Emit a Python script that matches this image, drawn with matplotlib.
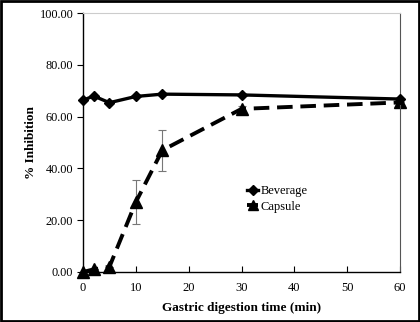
import matplotlib
matplotlib.use("Agg")
import matplotlib.pyplot as plt
from matplotlib.patches import Rectangle

plt.rcParams['font.family'] = ['Liberation Serif', 'DejaVu Serif']

# data
time_min = [0, 2, 5, 10, 15, 30, 60]
beverage = [66.3, 68.0, 65.4, 67.8, 68.7, 68.4, 66.8]
capsule = [0.0, 1.0, 2.0, 27.0, 47.0, 63.0, 65.5]
capsule_err = [0.0, 0.0, 0.0, 8.5, 8.0, 1.0, 0.0]
yticks = [0, 20, 40, 60, 80, 100]
xticks = [0, 10, 20, 30, 40, 50, 60]

fig = plt.figure(figsize=(4.2, 3.22), dpi=100)
ax = fig.add_axes([0.1976, 0.1553, 0.755, 0.804])

ax.errorbar(time_min, capsule, yerr=capsule_err, fmt="none", ecolor="#777777",
            elinewidth=0.8, capsize=3, capthick=0.8, zorder=1)
ax.plot(time_min, beverage, "k-", marker="D", markersize=5, linewidth=2.4,
        label="Beverage", zorder=3)
ax.plot(time_min, capsule, "k--", marker="^", markersize=8, linewidth=2.8,
        dashes=(4, 2), label="Capsule", zorder=2)

ax.set_xlim(0, 60)
ax.set_ylim(0, 100)
ax.set_xticks(xticks)
ax.set_yticks(yticks)
ax.set_yticklabels(["%.2f" % v for v in yticks])
ax.tick_params(axis="x", direction="in", length=4, labelsize=9, pad=7)
ax.tick_params(axis="y", direction="out", length=4, labelsize=8.8, pad=3)
ax.spines["top"].set_color("#cccccc")
ax.spines["right"].set_color("#555555")
for s in ["left", "bottom"]:
    ax.spines[s].set_linewidth(1.0)
for ln in ax.lines:
    ln.set_clip_on(False)

ax.set_xlabel("Gastric digestion time (min)", fontsize=9.5, fontweight="bold", labelpad=6)
ax.set_ylabel("% Inhibition", fontsize=9.5, fontweight="bold", labelpad=2)

leg = ax.legend(loc="upper left", bbox_to_anchor=(0.49, 0.37), frameon=False, fontsize=9,
                handlelength=0.9, handletextpad=0.2, labelspacing=0.3, borderpad=0.2)
leg.legend_handles[1].set_markersize(7)

fig.patches.append(Rectangle((0.002, 0.003), 0.995, 0.994, transform=fig.transFigure,
                             fill=False, edgecolor="black", linewidth=2))

fig.savefig("out.png", dpi=100)
